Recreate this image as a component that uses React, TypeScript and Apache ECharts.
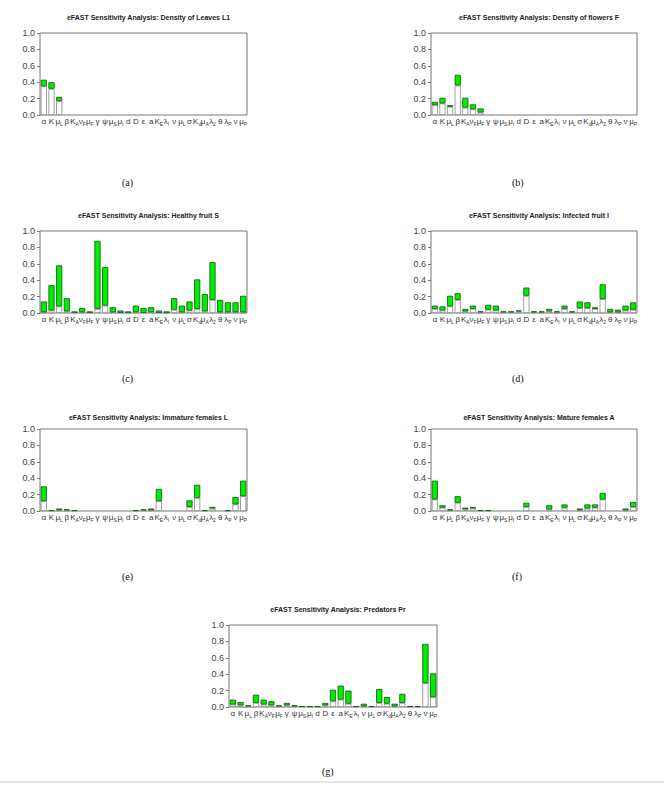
import { useEffect, useRef } from "react";
import * as echarts from "echarts";

const params = ["α", "K", "μL", "β", "KA", "νF", "μF", "γ", "ψ", "μS", "μI", "d", "D", "ε", "a", "KE", "λI", "ν", "μL", "σ", "Kd", "μA", "λ2", "θ", "λP", "ν", "μP"];
const yTicks = [0, 0.2, 0.4, 0.6, 0.8, 1.0];

const titles = [
  "eFAST Sensitivity Analysis: Density of Leaves L1",
  "eFAST Sensitivity Analysis: Density of flowers F",
  "eFAST Sensitivity Analysis: Healthy fruit S",
  "eFAST Sensitivity Analysis: Infected fruit I",
  "eFAST Sensitivity Analysis: Immature females L",
  "eFAST Sensitivity Analysis: Mature females A",
  "eFAST Sensitivity Analysis: Predators Pr"
];
const panelTags = ["(a)", "(b)", "(c)", "(d)", "(e)", "(f)", "(g)"];

// first-order index (white part) and total index (top of green part)
const leavesFirst = [0.35, 0.32, 0.17, 0, 0, 0, 0, 0, 0, 0, 0, 0, 0, 0, 0, 0, 0, 0, 0, 0, 0, 0, 0, 0, 0, 0, 0];
const leavesTotal = [0.43, 0.40, 0.22, 0, 0, 0, 0, 0, 0, 0, 0, 0, 0, 0, 0, 0, 0, 0, 0, 0, 0, 0, 0, 0, 0, 0, 0];
const flowersFirst = [0.12, 0.14, 0.10, 0.36, 0.09, 0.07, 0.03, 0, 0, 0, 0, 0, 0, 0, 0, 0, 0, 0, 0, 0, 0, 0, 0, 0, 0, 0, 0];
const flowersTotal = [0.16, 0.21, 0.12, 0.49, 0.21, 0.13, 0.08, 0, 0, 0, 0, 0, 0, 0, 0, 0, 0, 0, 0, 0, 0, 0, 0, 0, 0, 0, 0];
const healthyFirst = [0.01, 0.03, 0.08, 0.02, 0, 0.01, 0, 0.05, 0.09, 0.01, 0, 0, 0.01, 0, 0.01, 0, 0, 0.04, 0.01, 0.03, 0.05, 0.02, 0.16, 0.01, 0.01, 0.01, 0.01];
const healthyTotal = [0.14, 0.34, 0.58, 0.18, 0.02, 0.06, 0.02, 0.88, 0.56, 0.07, 0.03, 0.02, 0.09, 0.06, 0.07, 0.03, 0.02, 0.18, 0.09, 0.14, 0.41, 0.23, 0.62, 0.16, 0.13, 0.13, 0.21];
const infectedFirst = [0.05, 0.03, 0.08, 0.16, 0.02, 0.05, 0.01, 0.04, 0.03, 0.01, 0.01, 0.02, 0.21, 0.01, 0.01, 0.02, 0.01, 0.05, 0.01, 0.06, 0.06, 0.05, 0.17, 0.01, 0.01, 0.03, 0.04];
const infectedTotal = [0.09, 0.08, 0.21, 0.24, 0.05, 0.09, 0.02, 0.10, 0.09, 0.02, 0.02, 0.03, 0.31, 0.02, 0.02, 0.05, 0.02, 0.09, 0.02, 0.14, 0.13, 0.07, 0.35, 0.05, 0.04, 0.09, 0.13];
const immatureFirst = [0.12, 0, 0.01, 0.01, 0, 0, 0, 0, 0, 0, 0, 0, 0, 0.01, 0.01, 0.12, 0, 0, 0, 0.05, 0.16, 0, 0.03, 0, 0, 0.08, 0.18];
const immatureTotal = [0.30, 0.01, 0.03, 0.02, 0.01, 0, 0, 0, 0, 0, 0, 0, 0.01, 0.02, 0.03, 0.27, 0, 0, 0, 0.13, 0.32, 0.01, 0.05, 0, 0.01, 0.17, 0.37];
const matureFirst = [0.14, 0.04, 0.01, 0.10, 0.02, 0.03, 0, 0, 0, 0, 0, 0, 0.05, 0, 0, 0.02, 0, 0.04, 0, 0.01, 0.03, 0.04, 0.14, 0, 0, 0.01, 0.05];
const matureTotal = [0.37, 0.07, 0.02, 0.18, 0.04, 0.05, 0.01, 0.01, 0, 0, 0, 0, 0.10, 0, 0, 0.07, 0, 0.08, 0, 0.03, 0.08, 0.08, 0.22, 0, 0, 0.03, 0.11];
const predatorsFirst = [0.03, 0.02, 0.01, 0.05, 0.03, 0.02, 0.01, 0.02, 0.01, 0, 0, 0, 0.02, 0.07, 0.09, 0.04, 0, 0.01, 0, 0.05, 0.04, 0.01, 0.05, 0, 0, 0.29, 0.12];
const predatorsTotal = [0.09, 0.06, 0.02, 0.15, 0.09, 0.07, 0.02, 0.05, 0.02, 0.01, 0.01, 0.01, 0.05, 0.21, 0.26, 0.20, 0.01, 0.04, 0.01, 0.22, 0.12, 0.04, 0.16, 0.01, 0.01, 0.77, 0.41];

const firsts = [leavesFirst, flowersFirst, healthyFirst, infectedFirst, immatureFirst, matureFirst, predatorsFirst];
const totals = [leavesTotal, flowersTotal, healthyTotal, infectedTotal, immatureTotal, matureTotal, predatorsTotal];

// plot boxes: [left, top, width]
const boxes = [
  [40, 33, 207], [431, 33, 206],
  [40, 231, 207], [431, 231, 206],
  [40, 429, 207], [431, 429, 206],
  [229, 625, 208]
];
const plotHeight = 82;

function paramLabel(i: number) {
  const p = params[i];
  if (p.length > 1) return `{b|${p[0]}}{s|${p.slice(1)}}`;
  return `{b|${p}}`;
}

export default function App() {
  const ref = useRef<HTMLDivElement | null>(null);

  useEffect(() => {
    document.body.style.margin = "0";
    if (!ref.current) return;
    const chart = echarts.init(ref.current, null, { renderer: "svg" });
    const font = "Liberation Sans, Arial, sans-serif";

    const grid = boxes.map(([left, top, width]) => ({
      left, top, width, height: plotHeight,
      show: true, borderColor: "#777", borderWidth: 1, backgroundColor: "transparent"
    }));
    const xAxis = boxes.map((_, g) => ({
      type: "category",
      gridIndex: g,
      data: params.map((_, i) => String(i)),
      axisLine: { show: false },
      axisTick: { show: false },
      axisLabel: {
        interval: 0,
        margin: 2,
        color: "#333",
        fontFamily: font,
        hideOverlap: false,
        formatter: (v: string) => paramLabel(Number(v)),
        rich: {
          b: { fontSize: 8, fontFamily: font, color: "#333" },
          s: { fontSize: 5, fontFamily: font, color: "#333", verticalAlign: "bottom", padding: [4, 0, 0, 0] }
        }
      }
    }));
    const yAxis = boxes.map((_, g) => ({
      type: "value",
      gridIndex: g,
      min: 0,
      max: 1,
      interval: 0.2,
      axisLine: { show: false },
      axisTick: { show: true, length: 3, lineStyle: { color: "#777" } },
      splitLine: { show: false },
      axisLabel: {
        color: "#444",
        fontSize: 9,
        fontFamily: font,
        margin: 5,
        formatter: (v: number) => (yTicks.includes(Math.round(v * 10) / 10) ? v.toFixed(1) : "")
      }
    }));
    const series: any[] = [];
    firsts.forEach((first, g) => {
      series.push({
        type: "bar", xAxisIndex: g, yAxisIndex: g, stack: "s" + g,
        data: first.map((v) => (v > 0 ? v : "-")), barWidth: "80%",
        itemStyle: { color: "#ffffff", borderColor: "#8a8a8a", borderWidth: 0.8 }
      });
      series.push({
        type: "bar", xAxisIndex: g, yAxisIndex: g, stack: "s" + g,
        data: totals[g].map((t, i) => {
          const d = +(t - first[i]).toFixed(3);
          return d > 0 ? d : "-";
        }),
        barWidth: "80%",
        itemStyle: { color: "#00ee00", borderColor: "#0a5a0a", borderWidth: 0.8 }
      });
    });

    const title = boxes.map(([left, top, width], g) => ({
      text: titles[g],
      left: left + width / 2,
      top: top - (g === 4 || g === 5 ? 20 : 24),
      textAlign: "center",
      textStyle: { fontSize: 7, fontWeight: "bold", fontFamily: font, color: "#222" }
    }));

    const tagX = [122, 512, 122, 512, 122, 512, 322];
    const tagY = [183, 183, 379, 379, 577, 577, 772];
    const graphic: any[] = boxes.map((_, g) => ({
      type: "text",
      left: tagX[g],
      top: tagY[g] - 6,
      style: { text: panelTags[g], fontSize: 10, fontFamily: "Liberation Serif, serif", fill: "#111" }
    }));
    graphic.push({ type: "line", shape: { x1: 0, y1: 782, x2: 664, y2: 782 }, style: { stroke: "#ccc", lineWidth: 1 } });

    chart.setOption({ animation: false, title, grid, xAxis, yAxis, series, graphic });
    return () => chart.dispose();
  }, []);

  return <div ref={ref} style={{ width: 664, height: 790, background: "#fff" }} />;
}
